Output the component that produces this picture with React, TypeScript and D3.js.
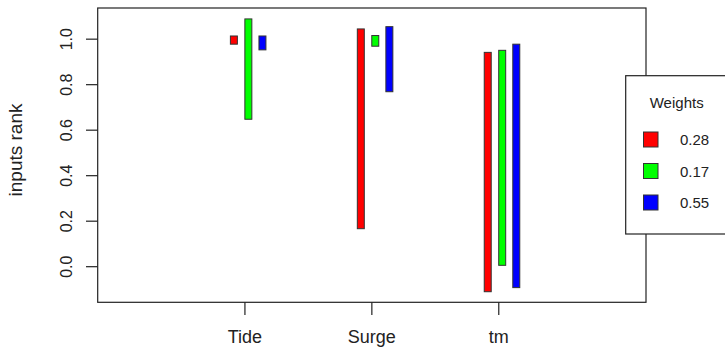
import React from 'react';
import * as d3 from 'd3';

// values
const categories = ['Tide', 'Surge', 'tm'];
const weightLabels = ['0.28', '0.17', '0.55'];
const seriesColors = ['#ff0000', '#00ff00', '#0000ff'];
const redLow = [0.978, 0.167, -0.110];
const redHigh = [1.014, 1.045, 0.942];
const greenLow = [0.648, 0.969, 0.006];
const greenHigh = [1.089, 1.016, 0.951];
const blueLow = [0.953, 0.769, -0.092];
const blueHigh = [1.014, 1.055, 0.978];
const yTicks = [0, 0.2, 0.4, 0.6, 0.8, 1.0];

const series = [
	{ low: redLow, high: redHigh, offset: -0.087 },
	{ low: greenLow, high: greenHigh, offset: 0.027 },
	{ low: blueLow, high: blueHigh, offset: 0.138 },
];

const W = 725;
const H = 347;
const font = '"Liberation Sans", Arial, Helvetica, sans-serif';

const App = () => {
	const x = d3.scaleLinear().domain([-0.16, 4.16]).range([97.7, 646]);
	const y = d3.scaleLinear().domain([-0.1565, 1.137]).range([302.3, 8]);
	const barW = x(0.055) - x(0);

	return (
		<svg width={ W } height={ H } style={{ position: 'absolute', left: 0, top: 0, background: '#fff' }}
			fontFamily={ font }>
			{/* bars */}
			{series.map((s, si) => categories.map((c, i) => (
				<rect key={ `${ si }-${ c }` }
					x={ x(i + 1 + s.offset) - barW / 2 }
					y={ y(s.high[i]) }
					width={ barW }
					height={ y(s.low[i]) - y(s.high[i]) }
					fill={ seriesColors[si] }
					stroke="#333" strokeWidth={ 1 }/>
			)))}

			{/* frame */}
			<rect x={ 97.7 } y={ 8 } width={ 646 - 97.7 } height={ 302.3 - 8 }
				fill="none" stroke="#222" strokeWidth={ 1.2 }/>

			{/* y axis */}
			{yTicks.map((t) => (
				<g key={ t }>
					<line x1={ 86 } x2={ 97.7 } y1={ y(t) } y2={ y(t) } stroke="#222" strokeWidth={ 1.2 }/>
					<text transform={ `translate(71.5, ${ y(t) }) rotate(-90)` } textAnchor="middle"
						fontSize={ 16 } fill="#222">{ d3.format('.1f')(t) }</text>
				</g>
			))}
			<text transform="translate(22, 150) rotate(-90)" textAnchor="middle" fontSize={ 19 } fill="#222">
				inputs rank
			</text>

			{/* x axis */}
			{categories.map((c, i) => (
				<g key={ c }>
					<line x1={ x(i + 1) } x2={ x(i + 1) } y1={ 302.3 } y2={ 315 } stroke="#222" strokeWidth={ 1.2 }/>
					<text x={ x(i + 1) } y={ 342.5 } textAnchor="middle" fontSize={ 18 } fill="#222">{ c }</text>
				</g>
			))}

			{/* legend */}
			<rect x={ 625.7 } y={ 75.7 } width={ 110 } height={ 158.3 } fill="#fff" stroke="#222" strokeWidth={ 1.2 }/>
			<text x={ 676.7 } y={ 108 } textAnchor="middle" fontSize={ 15 } fill="#222">Weights</text>
			{weightLabels.map((w, i) => (
				<g key={ w }>
					<rect x={ 643.5 } y={ 132 + i * 31.5 } width={ 14.5 } height={ 15 }
						fill={ seriesColors[i] } stroke="#333" strokeWidth={ 1 }/>
					<text x={ 680 } y={ 145 + i * 31.5 } fontSize={ 15 } fill="#222">{ w }</text>
				</g>
			))}
		</svg>
	);
};

export default App;
